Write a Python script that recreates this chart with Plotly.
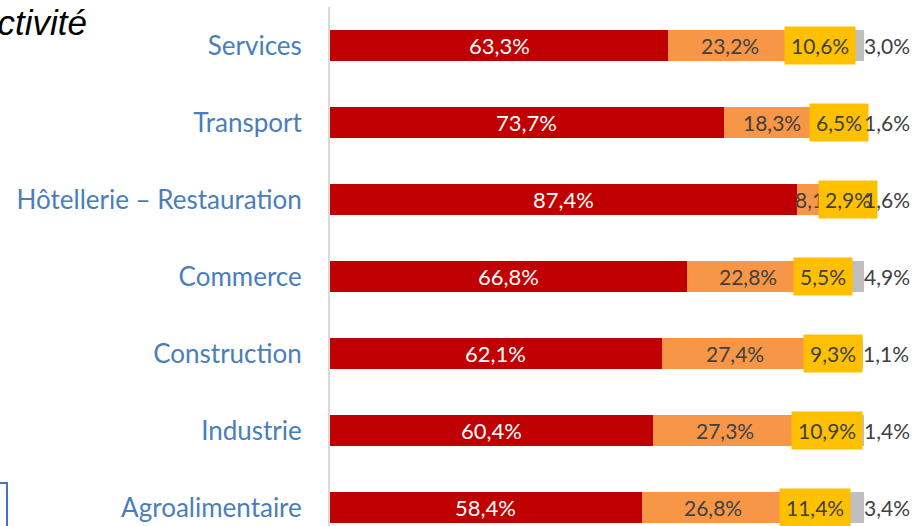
import plotly.graph_objects as go

categories = ["Services", "Transport", "Hôtellerie – Restauration", "Commerce",
              "Construction", "Industrie", "Agroalimentaire"]
red_vals = [63.3, 73.7, 87.4, 66.8, 62.1, 60.4, 58.4]
orange_vals = [23.2, 18.3, 8.1, 22.8, 27.4, 27.3, 26.8]
yellow_vals = [10.6, 6.5, 2.9, 5.5, 9.3, 10.9, 11.4]
grey_vals = [3.0, 1.6, 1.6, 4.9, 1.1, 1.4, 3.4]
series_names = ["Série 1", "Série 2", "Série 3", "Série 4"]
title_text = "Répartition par secteur d’activité"

RED, ORANGE, YELLOW, GREY = "#C00000", "#F79646", "#FFC000", "#BFBFBF"
LBL = "#404040"
FONT = "Lato"

def fmt(v):
    return f"{v:.1f}".replace(".", ",") + "%"

fig = go.Figure()
for vals, col, name in [(red_vals, RED, series_names[0]), (orange_vals, ORANGE, series_names[1]),
                        (yellow_vals, YELLOW, series_names[2]), (grey_vals, GREY, series_names[3])]:
    fig.add_trace(go.Bar(y=categories, x=vals, orientation="h", marker_color=col,
                         marker_line_width=0, name=name, showlegend=False,
                         hoverinfo="skip"))

ann = []
for i, c in enumerate(categories):
    r, o, y, g = red_vals[i], orange_vals[i], yellow_vals[i], grey_vals[i]
    ann.append(dict(x=r / 2, y=c, text=fmt(r), showarrow=False,
                    font=dict(family=FONT, size=22, color="white")))
    ann.append(dict(x=r + o / 2, y=c, text=fmt(o), showarrow=False,
                    font=dict(family=FONT, size=21, color=LBL)))
for i, c in enumerate(categories):
    r, o, y, g = red_vals[i], orange_vals[i], yellow_vals[i], grey_vals[i]
    ann.append(dict(x=r + o + y / 2, y=c, text=fmt(y), showarrow=False, bgcolor=YELLOW,
                    borderpad=6, font=dict(family=FONT, size=21, color=LBL)))
for i, c in enumerate(categories):
    r, o, y, g = red_vals[i], orange_vals[i], yellow_vals[i], grey_vals[i]
    ann.append(dict(x=min(r + o + y + g, 100.0), y=c, text=fmt(g), showarrow=False,
                    xanchor="left", xshift=-2,
                    font=dict(family=FONT, size=21, color=LBL)))

ann.append(dict(xref="paper", yref="paper", x=(89 - 330) / 534, y=(526 - 22) / 519,
                xanchor="right", yanchor="middle", text="<i>" + title_text + "</i>",
                showarrow=False,
                font=dict(family="Liberation Sans", size=35, color="black")))

fig.update_layout(
    width=920, height=526,
    margin=dict(l=330, r=56, t=7, b=0),
    barmode="stack", bargap=0.6,
    plot_bgcolor="white", paper_bgcolor="white",
    annotations=ann,
    shapes=[dict(type="rect", xref="paper", yref="paper",
                 x0=-0.75, x1=(7 - 330) / 534, y0=-0.1, y1=(526 - 483) / 519,
                 line=dict(color="#4472C4", width=2), fillcolor="rgba(0,0,0,0)")],
    xaxis=dict(range=[0, 100], visible=False, fixedrange=True),
    yaxis=dict(type="category", categoryorder="array", categoryarray=categories,
               range=[6.24, -0.5], showline=True, linecolor="#D9D9D9", linewidth=2,
               showgrid=False, ticks="", ticklabelstandoff=21, fixedrange=True,
               tickfont=dict(family=FONT, size=26, color="#4A7EBB")),
)

fig.write_html("out.html", config={"displayModeBar": False},
               post_script="document.body.style.margin='0';")
